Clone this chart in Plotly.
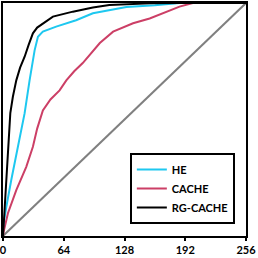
import plotly.graph_objects as go

he_x = [0, 0.6, 3.5, 8.7, 15.7, 22.8, 28, 33.3, 36.8, 42, 56, 77, 94.7, 112, 130, 160, 186, 256]
he_y = [10, 14.3, 32, 61.5, 98, 135, 171, 204, 219, 224.5, 230, 237, 244.7, 248, 251.5, 253.5, 256, 256]

cache_x = [0, 0.6, 5.2, 14, 24.5, 31.5, 36, 38.6, 42, 50, 59.6, 66.7, 75, 84, 92, 102, 116, 137, 154.5, 172, 186, 200, 256]
cache_y = [0, 4.4, 25, 50.5, 76, 98, 118, 127, 138, 150, 160, 171, 181, 190, 200, 212, 224.5, 233.7, 239, 246.5, 252, 256, 256]

rg_x = [0, 1.7, 3.5, 5.2, 7.7, 10.4, 14, 18, 22.8, 27, 31.5, 36, 42, 52.6, 73.6, 94.7, 112, 130, 155, 186, 256]
rg_y = [0, 32, 61.5, 98, 135, 153, 171, 185, 197, 210, 222.7, 229, 233.7, 241, 246.5, 251, 253.8, 254.9, 255.6, 256, 256]

diag_x = [0, 256]
diag_y = [0, 256]

tick_vals = [0, 64, 128, 192, 256]
tick_text = ["0", "64", "128", "192", "256"]

fig = go.Figure()
fig.add_trace(go.Scatter(x=diag_x, y=diag_y, mode="lines", line=dict(color="#808080", width=2), showlegend=False))
fig.add_trace(go.Scatter(x=cache_x, y=cache_y, mode="lines", line=dict(color="#cc3f66", width=2), showlegend=False))
fig.add_trace(go.Scatter(x=he_x, y=he_y, mode="lines", line=dict(color="#1ec8f0", width=2), showlegend=False))
fig.add_trace(go.Scatter(x=rg_x, y=rg_y, mode="lines", line=dict(color="#000000", width=2), showlegend=False))
# legend entries
fig.add_trace(go.Scatter(x=[None], y=[None], mode="lines", name="HE", line=dict(color="#1ec8f0", width=2)))
fig.add_trace(go.Scatter(x=[None], y=[None], mode="lines", name="CACHE", line=dict(color="#cc3f66", width=2)))
fig.add_trace(go.Scatter(x=[None], y=[None], mode="lines", name="RG-CACHE", line=dict(color="#000000", width=2)))

fig.update_layout(
    template="none",
    width=258, height=258,
    margin=dict(l=3, r=12, t=3, b=22, autoexpand=False),
    paper_bgcolor="white", plot_bgcolor="white",
    font=dict(family="Lato", size=11, color="black", weight="bold"),
    legend=dict(x=0.522, y=0.356, xanchor="left", yanchor="top",
                bordercolor="black", borderwidth=2, bgcolor="white",
                font=dict(family="Lato", size=11, color="black", weight="bold"),
                tracegroupgap=0, itemwidth=30),
)
fig.update_xaxes(range=[0, 256], tickvals=tick_vals, ticktext=tick_text, automargin=False,
                 showgrid=False, zeroline=False, showline=True, linecolor="black",
                 linewidth=2, mirror=True, ticks="outside", ticklen=3, tickwidth=2,
                 tickcolor="black", ticklabeloverflow="allow",
                 tickfont=dict(size=11, family="Lato", weight="bold"))
fig.update_yaxes(range=[0, 256], showticklabels=False, showgrid=False, zeroline=False, automargin=False,
                 showline=True, linecolor="black", linewidth=2, mirror=True, ticks="")

fig.write_html("out.html", config={"displayModeBar": False},
               post_script="document.body.style.margin='0';document.body.style.padding='0';")
